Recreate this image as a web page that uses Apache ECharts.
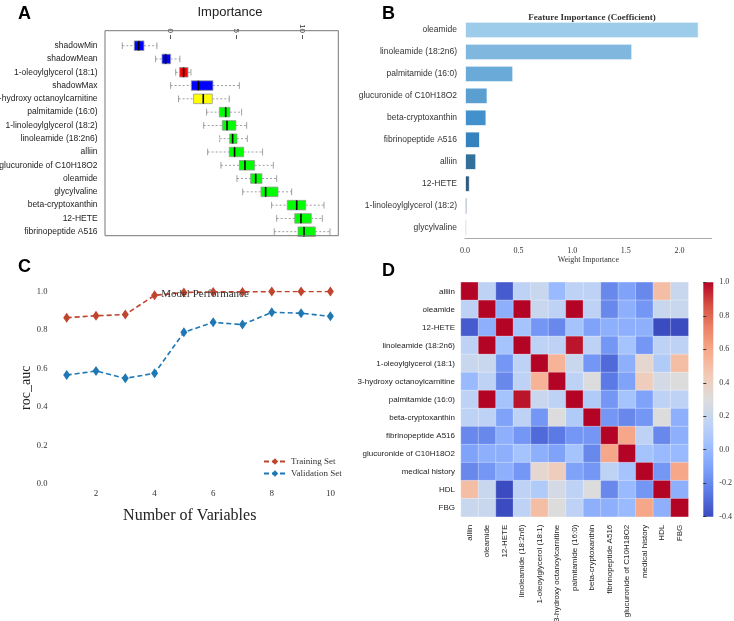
<!DOCTYPE html>
<html><head><meta charset="utf-8">
<script src="https://cdn.jsdelivr.net/npm/echarts@6/dist/echarts.min.js"></script>
<style>html,body{margin:0;padding:0;background:#fff}#c{width:734px;height:621px}</style>
</head><body><div id="c"></div>
<script>
// ---- Panel A: Boruta importance boxplots ----
const aNames = ['shadowMin','shadowMean','1-oleoylglycerol (18:1)','shadowMax','3-hydroxy octanoylcarnitine','palmitamide (16:0)','1-linoleoylglycerol (18:2)','linoleamide (18:2n6)','alliin','glucuronide of C10H18O2','oleamide','glycylvaline','beta-cryptoxanthin','12-HETE','fibrinopeptide A516'];
const aLow = [-3.59,-1.08,0.43,0.05,0.65,2.76,2.54,3.74,2.84,3.84,5.05,5.48,7.66,8.04,7.86];
const aQ1  = [-2.69,-0.60,0.73,1.61,1.78,3.72,3.94,4.50,4.47,5.23,6.08,6.86,8.84,9.40,9.65];
const aMed = [-2.36,-0.33,1.03,2.14,2.51,4.20,4.30,4.72,4.87,5.65,6.46,7.21,9.55,9.87,10.10];
const aQ3  = [-1.96,0.05,1.36,3.24,3.19,4.52,4.97,5.05,5.55,6.38,6.93,8.14,10.23,10.65,10.95];
const aHigh= [-0.98,0.75,1.58,5.23,4.47,5.40,5.78,5.83,6.98,7.79,8.04,9.17,11.61,11.48,12.06];
const aColor = ['#0000ff','#0000ff','#ff0000','#0000ff','#ffff00','#00ff00','#00ff00','#00ff00','#00ff00','#00ff00','#00ff00','#00ff00','#00ff00','#00ff00','#00ff00'];
const aOutliers = [[-4.27,0],[-4.15,0],[-1.6,1],[1.08,1],[-0.38,2],[6.2,3],[6.1,3],[-0.38,4],[2.29,5],[2.35,5],[6.28,5],[3.34,7],[3.47,7],[3.55,7],[3.09,9],[4.0,10],[4.62,10],[8.44,10],[10.05,11]];
// ---- Panel B: coefficients ----
const bNames = ['oleamide','linoleamide (18:2n6)','palmitamide (16:0)','glucuronide of C10H18O2','beta-cryptoxanthin','fibrinopeptide A516','alliin','12-HETE','1-linoleoylglycerol (18:2)','glycylvaline'];
const bValues = [2.18,1.56,0.45,0.21,0.20,0.14,0.105,0.045,0.02,0.015];
const bColors = ['#9dcbea','#80b7de','#6aaad8','#5a9fd0','#4291cc','#3682bf','#326f9b','#2f5b7f','#2e4a64','#2c3e50'];
// ---- Panel C: model performance ----
const cX = [1,2,3,4,5,6,7,8,9,10];
const cTrain = [0.864,0.874,0.880,0.980,0.995,0.998,0.998,1.0,1.0,1.0];
const cValid = [0.566,0.587,0.549,0.575,0.788,0.840,0.828,0.892,0.887,0.871];
// ---- Panel D: correlation heatmap ----
const dNames = ['alliin','oleamide','12-HETE','linoleamide (18:2n6)','1-oleoylglycerol (18:1)','3-hydroxy octanoylcarnitine','palmitamide (16:0)','beta-cryptoxanthin','fibrinopeptide A516','glucuronide of C10H18O2','medical history','HDL','FBG'];
const dMatrix = [
 [1,0.15,-0.35,0.15,0.2,0.0,0.15,0.15,-0.2,-0.1,-0.2,0.5,0.2],
 [0.15,1,-0.05,1,0.2,0.15,1,0.15,-0.2,-0.05,-0.15,0.2,0.2],
 [-0.35,-0.05,1,0.05,-0.15,-0.2,0.05,-0.1,-0.05,-0.05,-0.05,-0.4,-0.4],
 [0.15,1,0.05,1,0.15,0.15,0.97,0.15,-0.15,0.05,-0.15,0.15,0.15],
 [0.2,0.2,-0.15,0.15,1,0.55,0.2,-0.15,-0.3,-0.05,0.35,0.1,0.5],
 [0.0,0.15,-0.2,0.15,0.55,1,0.15,0.3,-0.25,-0.1,0.42,0.25,0.3],
 [0.15,1,0.05,0.97,0.2,0.15,1,0.1,-0.15,0.05,-0.1,0.15,0.15],
 [0.15,0.15,-0.1,0.15,-0.15,0.3,0.1,1,-0.15,-0.2,-0.15,0.3,-0.05],
 [-0.2,-0.2,-0.05,-0.15,-0.3,-0.25,-0.15,-0.15,1,0.6,0.15,-0.2,-0.05],
 [-0.1,-0.05,-0.05,0.05,-0.05,-0.1,0.05,-0.2,0.6,1,0.05,0.0,0.0],
 [-0.2,-0.15,-0.05,-0.15,0.35,0.42,-0.1,-0.15,0.15,0.05,1,-0.15,0.6],
 [0.5,0.2,-0.4,0.15,0.1,0.25,0.15,0.3,-0.2,0.0,-0.15,1,-0.05],
 [0.2,0.2,-0.4,0.15,0.5,0.3,0.15,-0.05,-0.05,0.0,0.6,-0.05,1]
];
const coolwarm = ['#3b4cc0','#5977e3','#7b9ff9','#9ebeff','#c0d4f5','#dddcdc','#f2cbb7','#f7ac8e','#ee8468','#d65244','#b40426'];

const boxData = aNames.map((n,i)=>[i,aLow[i],aQ1[i],aMed[i],aQ3[i],aHigh[i]]);
const heatData = [];
dMatrix.forEach((row,r)=>row.forEach((v,c)=>heatData.push([c,r,v])));
const serif = 'Liberation Serif';
const sans = 'Liberation Sans';
const ob = {outerBoundsMode:'none',containLabel:false};

const chart = echarts.init(document.getElementById('c'));
chart.setOption({
  animation:false,
  title:[
    {text:'Importance',left:225,top:1,textAlign:'center',textStyle:{fontFamily:sans,fontSize:13,fontWeight:'normal',color:'#222'}},
    {text:'Feature Importance (Coefficient)',left:587,top:8,textAlign:'center',textStyle:{fontFamily:serif,fontSize:9,fontWeight:'bold',color:'#333'}},
    {text:'Model Performance',left:200,top:284,textAlign:'center',textStyle:{fontFamily:serif,fontSize:11,fontWeight:'normal',color:'#333'}}
  ],
  graphic:[
    {type:'text',left:18,top:5,style:{text:'A',font:'bold 18px Liberation Sans',fill:'#000'}},
    {type:'text',left:382,top:5,style:{text:'B',font:'bold 18px Liberation Sans',fill:'#000'}},
    {type:'text',left:18,top:258,style:{text:'C',font:'bold 18px Liberation Sans',fill:'#000'}},
    {type:'text',left:382,top:262,style:{text:'D',font:'bold 18px Liberation Sans',fill:'#000'}},
    {type:'rect',shape:{x:105,y:30.7,width:233.3,height:205},style:{fill:'none',stroke:'#777',lineWidth:1},z:10},
    {type:'rect',shape:{x:703.3,y:282.3,width:10,height:234.4},style:{fill:new echarts.graphic.LinearGradient(0,1,0,0,coolwarm.map((c,i)=>({offset:i/(coolwarm.length-1),color:c})))}}
  ],
  visualMap:{show:false,min:-0.4,max:1.0,seriesIndex:4,inRange:{color:coolwarm}},
  legend:{data:['Training Set','Validation Set'],orient:'vertical',left:258,top:452,itemGap:3,itemWidth:22,itemHeight:8,
    textStyle:{fontFamily:serif,fontSize:9,color:'#333'}},
  grid:[
    Object.assign({left:103.6,top:39.06,width:234.9,height:199.3},ob),
    Object.assign({left:465,top:19,width:246.6,height:219.6},ob),
    Object.assign({left:37.4,top:291.5,width:304.7,height:192.5},ob),
    Object.assign({left:461,top:282.3,width:227.3,height:234.4},ob),
    Object.assign({left:703.3,top:282.3,width:10,height:234.4},ob)
  ],
  xAxis:[
    {gridIndex:0,type:'value',position:'top',min:-5,max:12.7,interval:5,splitLine:{show:false},
      axisLine:{show:false},axisTick:{show:true,length:4,lineStyle:{color:'#555'}},
      axisLabel:{rotate:90,showMinLabel:false,showMaxLabel:false,fontFamily:sans,fontSize:8,color:'#333',margin:6}},
    {gridIndex:1,type:'value',min:0,max:2.3,interval:0.5,splitLine:{show:false},
      axisLine:{show:true,lineStyle:{color:'#aaa'}},axisTick:{show:false},
      axisLabel:{formatter:v=>v.toFixed(1),showMaxLabel:false,fontFamily:serif,fontSize:8,color:'#333'},
      name:'Weight Importance',nameLocation:'middle',nameGap:16,nameTextStyle:{fontFamily:serif,fontSize:8,color:'#333'}},
    {gridIndex:2,type:'value',min:0,max:10.4,interval:2,splitLine:{show:false},
      axisLine:{show:false},axisTick:{show:false},
      axisLabel:{showMinLabel:false,showMaxLabel:false,fontFamily:serif,fontSize:9,color:'#333',margin:5},
      name:'Number of Variables',nameLocation:'middle',nameGap:24,nameTextStyle:{fontFamily:serif,fontSize:16,color:'#222'}},
    {gridIndex:3,type:'category',data:dNames,axisLine:{show:false},axisTick:{show:false},
      axisLabel:{rotate:90,interval:0,fontFamily:sans,fontSize:8,color:'#222'}},
    {gridIndex:4,type:'value',show:false,min:0,max:1}
  ],
  yAxis:[
    {gridIndex:0,type:'category',data:aNames,inverse:true,axisLine:{show:false},axisTick:{show:false},
      axisLabel:{fontFamily:sans,fontSize:8.5,color:'#222',margin:6}},
    {gridIndex:1,type:'category',data:bNames,inverse:true,axisLine:{show:false},axisTick:{show:false},
      axisLabel:{fontFamily:sans,fontSize:8.5,color:'#333',margin:8}},
    {gridIndex:2,type:'value',min:0,max:1,interval:0.2,splitLine:{show:false},axisLine:{show:false},axisTick:{show:false},
      axisLabel:{formatter:v=>v.toFixed(1),fontFamily:serif,fontSize:8.5,color:'#333',margin:-10},
      name:'roc_auc',nameLocation:'middle',nameGap:4,nameTextStyle:{fontFamily:serif,fontSize:14,color:'#222'}},
    {gridIndex:3,type:'category',data:dNames,inverse:true,axisLine:{show:false},axisTick:{show:false},
      axisLabel:{fontFamily:sans,fontSize:8,color:'#222',margin:6}},
    {gridIndex:4,type:'value',position:'right',min:-0.4,max:1.0,interval:0.2,splitLine:{show:false},axisLine:{show:false},
      axisTick:{show:true,length:3,lineStyle:{color:'#333'}},
      axisLabel:{formatter:v=>v.toFixed(1),fontFamily:serif,fontSize:8,color:'#333',margin:6}}
  ],
  series:[
    {type:'custom',xAxisIndex:0,yAxisIndex:0,data:boxData,z:5,
      renderItem:(params,api)=>{
        const i=api.value(0);
        const lo=api.coord([api.value(1),i]), q1=api.coord([api.value(2),i]), md=api.coord([api.value(3),i]),
              q3=api.coord([api.value(4),i]), hi=api.coord([api.value(5),i]);
        const h=api.size([0,1])[1]*0.72, y=lo[1], cap=h*0.35;
        const dash={stroke:'#888',lineWidth:0.8,lineDash:[2,2]};
        const solid={stroke:'#888',lineWidth:0.8};
        return {type:'group',children:[
          {type:'line',shape:{x1:lo[0],y1:y,x2:q1[0],y2:y},style:dash},
          {type:'line',shape:{x1:q3[0],y1:y,x2:hi[0],y2:y},style:dash},
          {type:'line',shape:{x1:lo[0],y1:y-cap,x2:lo[0],y2:y+cap},style:solid},
          {type:'line',shape:{x1:hi[0],y1:y-cap,x2:hi[0],y2:y+cap},style:solid},
          {type:'rect',shape:{x:q1[0],y:y-h/2,width:q3[0]-q1[0],height:h},style:{fill:aColor[i],stroke:'#999',lineWidth:0.8}},
          {type:'line',shape:{x1:md[0],y1:y-h/2,x2:md[0],y2:y+h/2},style:{stroke:'#000',lineWidth:1.6}}
        ]};
      }},
    {type:'scatter',xAxisIndex:0,yAxisIndex:0,data:aOutliers,symbol:'emptyCircle',symbolSize:3.5,z:6,
      itemStyle:{color:'#fff',borderColor:'#555',borderWidth:0.7}},
    {type:'bar',xAxisIndex:1,yAxisIndex:1,barCategoryGap:'25%',
      data:bValues.map((v,i)=>({value:v,itemStyle:{color:bColors[i]}})),
      itemStyle:{borderColor:'rgba(255,255,255,0.7)',borderWidth:1}},
    {type:'line',name:'Training Set',xAxisIndex:2,yAxisIndex:2,data:cX.map((x,i)=>[x,cTrain[i]]),
      symbol:'diamond',symbolSize:[7,10],lineStyle:{type:[5,3],width:1.6,color:'#c0452e'},itemStyle:{color:'#c0452e'}},
    {type:'heatmap',xAxisIndex:3,yAxisIndex:3,data:heatData,itemStyle:{borderColor:'rgba(255,255,255,0.6)',borderWidth:0.5}},
    {type:'line',name:'Validation Set',xAxisIndex:2,yAxisIndex:2,data:cX.map((x,i)=>[x,cValid[i]]),
      symbol:'diamond',symbolSize:[7,10],lineStyle:{type:[5,3],width:1.6,color:'#1f77b4'},itemStyle:{color:'#1f77b4'}}
  ]
});
</script></body></html>
